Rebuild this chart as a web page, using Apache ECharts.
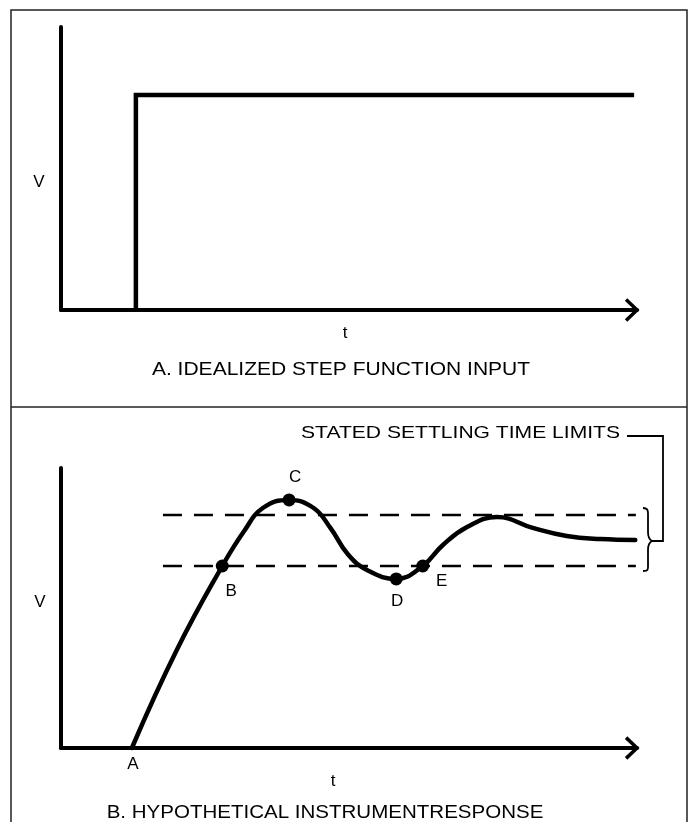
<!DOCTYPE html>
<html>
<head>
<meta charset="utf-8">
<script src="https://cdn.jsdelivr.net/npm/echarts@6/dist/echarts.min.js"></script>
<style>
html,body{margin:0;padding:0;background:#fff;}
#chart{width:691px;height:822px;}
</style>
</head>
<body>
<div id="chart"></div>
<script>
// ---- Panel A: idealized step input ----
const stepT = [1.3, 1.3, 9.95];
const stepV = [0, 7.6, 7.6];

// ---- Panel B: hypothetical instrument response ----
const responseT = [1.23, 2.01, 2.80, 3.18, 3.51, 3.96, 4.38, 4.68, 4.98, 5.32, 5.82, 6.28, 6.63, 7.05, 7.57, 8.19, 8.78, 9.36, 9.97];
const responseV = [0.0, 3.5, 6.5, 7.75, 8.58, 8.86, 8.58, 7.85, 6.92, 6.35, 6.04, 6.5, 7.25, 7.89, 8.25, 7.86, 7.57, 7.46, 7.43];

const limitT = [1.77, 9.98];
const limitUpperV = 8.32;
const limitLowerV = 6.5;

const markerNames = ['B', 'C', 'D', 'E'];
const markerT = [2.80, 3.96, 5.82, 6.28];
const markerV = [6.5, 8.86, 6.04, 6.5];
const markerLabelOffset = [[9, 25], [6, -23], [1, 22], [19, 15]];

const startName = 'A';
const startT = 1.23;
const startV = 0;

// arrow head (open chevron) in axis units
const arrowT = [9.81, 10, 9.81];
const arrowDV = [0.37, 0, -0.37];

const FONT = '"Liberation Sans", Arial, sans-serif';

function zip(a, b) { return a.map((v, i) => [v, b[i]]); }

const chart = echarts.init(document.getElementById('chart'), null, {renderer: 'canvas'});

const axisCommon = {
  type: 'value', min: 0, max: 10,
  axisTick: {show: false}, axisLabel: {show: false}, splitLine: {show: false},
  axisLine: {show: true, onZero: false, lineStyle: {color: '#000', width: 4}}
};

const blackLine = (w) => ({color: '#000', width: w, cap: 'butt', join: 'miter'});
const braceStyle = {stroke: '#000', lineWidth: 1.8, fill: null};
const letterLabel = (n, off) => ({show: true, position: 'inside', offset: off, formatter: n,
  color: '#000', opacity: 1, fontSize: 17, fontFamily: FONT, align: 'center', verticalAlign: 'middle'});

const option = {
  animation: false,
  backgroundColor: '#fff',
  grid: [
    {left: 61, top: 27, width: 576, height: 283},
    {left: 61, top: 468, width: 576, height: 280}
  ],
  xAxis: [
    Object.assign({gridIndex: 0}, axisCommon),
    Object.assign({gridIndex: 1}, axisCommon)
  ],
  yAxis: [
    Object.assign({gridIndex: 0}, axisCommon),
    Object.assign({gridIndex: 1}, axisCommon)
  ],
  series: [
    // Panel A
    {type: 'line', xAxisIndex: 0, yAxisIndex: 0, data: zip(stepT, stepV), symbol: 'none',
     lineStyle: blackLine(4.5), clip: false},
    {type: 'line', xAxisIndex: 0, yAxisIndex: 0, data: zip(arrowT, arrowDV), symbol: 'none',
     lineStyle: blackLine(3.5), clip: false},
    // Panel B
    {type: 'line', xAxisIndex: 1, yAxisIndex: 1, data: zip(limitT, [limitUpperV, limitUpperV]), symbol: 'none',
     lineStyle: {color: '#000', width: 2.5, type: [19, 12]}, clip: false},
    {type: 'line', xAxisIndex: 1, yAxisIndex: 1, data: zip(limitT, [limitLowerV, limitLowerV]), symbol: 'none',
     lineStyle: {color: '#000', width: 2.5, type: [19, 12]}, clip: false},
    {type: 'line', xAxisIndex: 1, yAxisIndex: 1, data: zip(responseT, responseV), symbol: 'none',
     smooth: 0.45, lineStyle: {color: '#000', width: 4.5, cap: 'round'}, clip: false},
    {type: 'line', xAxisIndex: 1, yAxisIndex: 1, data: zip(arrowT, arrowDV), symbol: 'none',
     lineStyle: blackLine(3.5), clip: false},
    {type: 'scatter', xAxisIndex: 1, yAxisIndex: 1, symbolSize: 13,
     itemStyle: {color: '#000', opacity: 1},
     data: markerNames.map((n, i) => ({
       name: n, value: [markerT[i], markerV[i]], label: letterLabel(n, markerLabelOffset[i])
     })), clip: false},
    {type: 'scatter', xAxisIndex: 1, yAxisIndex: 1, symbolSize: 1,
     itemStyle: {color: 'rgba(0,0,0,0)', opacity: 1},
     data: [{name: startName, value: [startT, startV], label: letterLabel(startName, [1, 16])}],
     clip: false}
  ],
  graphic: [
    // frame
    {type: 'polyline', shape: {points: [[11, 822], [11, 10], [687, 10], [687, 822]]}, style: {stroke: '#222', lineWidth: 1.5, fill: null}},
    {type: 'line', shape: {x1: 11, y1: 407, x2: 687, y2: 407}, style: {stroke: '#222', lineWidth: 1.5}},
    // texts panel A
    {type: 'text', x: 39, y: 182, style: {text: 'V', fill: '#000', font: '17px ' + FONT, textAlign: 'center', textVerticalAlign: 'middle'}},
    {type: 'text', x: 345, y: 333, style: {text: 't', fill: '#000', font: '17px ' + FONT, textAlign: 'center', textVerticalAlign: 'middle'}},
    {type: 'text', x: 341, y: 370, scaleX: 1.167, style: {text: 'A. IDEALIZED STEP FUNCTION INPUT', fill: '#000', font: '18px ' + FONT, textAlign: 'center', textVerticalAlign: 'middle'}},
    // texts panel B
    {type: 'text', x: 40, y: 602, style: {text: 'V', fill: '#000', font: '17px ' + FONT, textAlign: 'center', textVerticalAlign: 'middle'}},
    {type: 'text', x: 333, y: 781, style: {text: 't', fill: '#000', font: '17px ' + FONT, textAlign: 'center', textVerticalAlign: 'middle'}},
    {type: 'text', x: 325, y: 813, scaleX: 1.14, style: {text: 'B. HYPOTHETICAL INSTRUMENTRESPONSE', fill: '#000', font: '18px ' + FONT, textAlign: 'center', textVerticalAlign: 'middle'}},
    {type: 'text', x: 620, y: 433, scaleX: 1.24, style: {text: 'STATED SETTLING TIME LIMITS', fill: '#000', font: '17px ' + FONT, textAlign: 'right', textVerticalAlign: 'middle'}},
    // connector
    {type: 'polyline', shape: {points: [[627, 436], [663, 436], [663, 541], [652, 541]]}, style: {stroke: '#000', lineWidth: 1.8, fill: null}},
    // brace
    {type: 'bezierCurve', shape: {x1: 643, y1: 508, cpx1: 649, cpy1: 508, cpx2: 648, cpy2: 512, x2: 648, y2: 518}, style: braceStyle},
    {type: 'line', shape: {x1: 648, y1: 518, x2: 648, y2: 532}, style: braceStyle},
    {type: 'bezierCurve', shape: {x1: 648, y1: 532, cpx1: 648, cpy1: 538, cpx2: 650, cpy2: 540, x2: 652, y2: 541}, style: braceStyle},
    {type: 'bezierCurve', shape: {x1: 652, y1: 541, cpx1: 650, cpy1: 542, cpx2: 648, cpy2: 544, x2: 648, y2: 550}, style: braceStyle},
    {type: 'line', shape: {x1: 648, y1: 550, x2: 648, y2: 563}, style: braceStyle},
    {type: 'bezierCurve', shape: {x1: 648, y1: 563, cpx1: 648, cpy1: 569, cpx2: 649, cpy2: 571, x2: 643, y2: 571}, style: braceStyle}
  ]
};

chart.setOption(option);
</script>
</body>
</html>
